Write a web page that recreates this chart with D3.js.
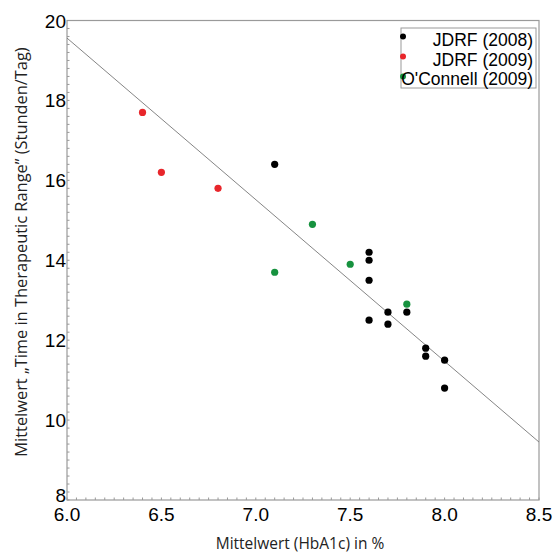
<!DOCTYPE html>
<html>
<head>
<meta charset="utf-8">
<script src="https://cdn.jsdelivr.net/npm/d3@7"></script>
<style>
  body { margin: 0; background: #fff; }
  svg { display: block; }
</style>
</head>
<body>
<svg id="chart" width="555" height="554"></svg>
<script>
// studies, one point per study arm: [HbA1c %, hours in range per day]
var jdrf2008 = [[7.1, 16.4], [7.6, 14.2], [7.6, 14.0], [7.6, 13.5], [7.6, 12.5],
  [7.7, 12.7], [7.7, 12.4], [7.8, 12.7], [7.9, 11.8], [7.9, 11.6], [8.0, 11.5], [8.0, 10.8]];
var jdrf2009 = [[6.4, 17.7], [6.5, 16.2], [6.8, 15.8]];
var oconnell2009 = [[7.1, 13.7], [7.3, 14.9], [7.5, 13.9], [7.8, 12.9]];
var fitLine = [[6.0, 19.56], [8.5, 9.45]];
var seriesNames = ["JDRF (2008)", "JDRF (2009)", "O'Connell (2009)"];
var seriesColors = ["#000000", "#e8262b", "#17923f"];
var xTicks = [6.0, 6.5, 7.0, 7.5, 8.0, 8.5];
var yTicks = [8, 10, 12, 14, 16, 18, 20];

var svg = d3.select("#chart");
var m = {top: 20.5, right: 16, bottom: 54, left: 67};
var w = 555 - m.left - m.right, h = 554 - m.top - m.bottom;

var x = d3.scaleLinear().domain([6, 8.5]).range([0, w]);
var y = d3.scaleLinear().domain([8, 20]).range([h, 0]);

var g = svg.append("g").attr("transform", "translate(" + m.left + "," + m.top + ")");

// minor ticks (inside)
g.selectAll(".xminor").data(d3.range(0, 51).map(i => 6 + i * 0.05))
  .enter().append("line")
  .attr("x1", d => x(d)).attr("x2", d => x(d))
  .attr("y1", h).attr("y2", h - 2.5)
  .attr("stroke", "#999").attr("stroke-width", 1);
g.selectAll(".yminor").data(d3.range(0, 61).map(i => 8 + i * 0.2))
  .enter().append("line")
  .attr("y1", d => y(d)).attr("y2", d => y(d))
  .attr("x1", 0).attr("x2", 2.5)
  .attr("stroke", "#999").attr("stroke-width", 1);

// frame
g.append("rect").attr("width", w).attr("height", h)
  .attr("fill", "none").attr("stroke", "#9a9a9a").attr("stroke-width", 1.2);

// tick labels
g.selectAll(".xl").data(xTicks).enter().append("text")
  .attr("x", d => x(d)).attr("y", h + 21)
  .attr("text-anchor", "middle")
  .style("font", "19px 'Liberation Sans', Arial, sans-serif")
  .text(d => d.toFixed(1));
g.selectAll(".yl").data(yTicks).enter().append("text")
  .attr("x", -1).attr("y", d => y(d) + (d === 8 ? 2 : 7))
  .attr("text-anchor", "end")
  .style("font", "19px 'Liberation Sans', Arial, sans-serif")
  .text(d => d);

// regression line
g.append("path").datum(fitLine)
  .attr("d", d3.line().x(d => x(d[0])).y(d => y(d[1])))
  .attr("stroke", "#777").attr("stroke-width", 0.9).attr("fill", "none");

// points
[jdrf2008, jdrf2009, oconnell2009].forEach(function (data, i) {
  g.selectAll(".s" + i).data(data).enter().append("circle")
    .attr("cx", d => x(d[0])).attr("cy", d => y(d[1]))
    .attr("r", 3.6).attr("fill", seriesColors[i]);
});

// legend
var lg = svg.append("g").attr("transform", "translate(401,28)");
lg.append("rect").attr("width", 135).attr("height", 60)
  .attr("fill", "#fff").attr("stroke", "#9a9a9a").attr("stroke-width", 1);
seriesNames.forEach(function (name, i) {
  lg.append("circle").attr("cx", 2).attr("cy", 8.5 + i * 20).attr("r", 3)
    .attr("fill", seriesColors[i]);
  lg.append("text").attr("x", 132).attr("y", 18 + i * 19.5)
    .attr("text-anchor", "end")
    .style("font", "17.5px 'Liberation Sans', Arial, sans-serif")
    .text(name);
});

// axis titles
svg.append("text").attr("x", m.left + w / 2 - 3).attr("y", 549)
  .attr("text-anchor", "middle")
  .style("font", "15.5px 'Open Sans', sans-serif").attr("fill", "#222")
  .text("Mittelwert (HbA1c) in %");
svg.append("text")
  .attr("transform", "translate(27,252) rotate(-90)")
  .attr("text-anchor", "middle")
  .style("font", "16.4px 'Open Sans', sans-serif").attr("fill", "#222")
  .text("Mittelwert \u201eTime in Therapeutic Range\u201d (Stunden/Tag)");
</script>
</body>
</html>
